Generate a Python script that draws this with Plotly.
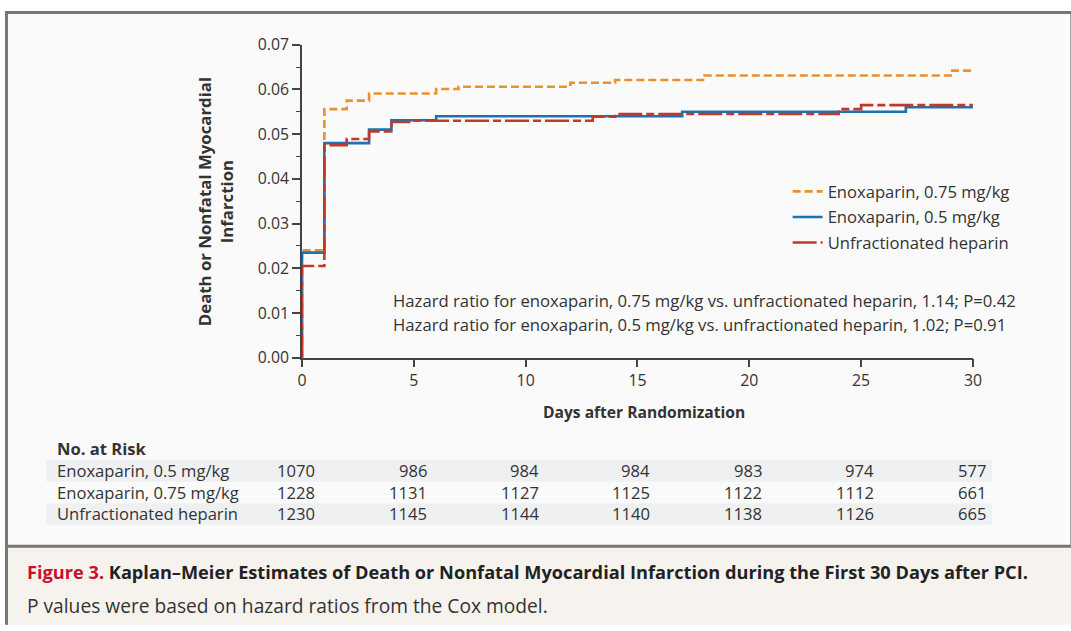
import plotly.graph_objects as go

# ---------------- data ----------------
days_enox075 = [0, 0, 1, 2, 3, 6, 7, 12, 14, 18, 29, 30]
risk_enox075 = [0, 0.024, 0.0556, 0.0575, 0.0591, 0.0601, 0.0606, 0.0615, 0.0621, 0.0631, 0.0642, 0.0642]

days_enox05 = [0, 0, 1, 3, 4, 6, 17, 27, 30]
risk_enox05 = [0, 0.0235, 0.0480, 0.0510, 0.0531, 0.0540, 0.0550, 0.0560, 0.0560]

days_ufh = [0, 0, 1, 2, 3, 4, 5, 13, 14, 24, 25, 30]
risk_ufh = [0, 0.0205, 0.0475, 0.0489, 0.0506, 0.0527, 0.0530, 0.0539, 0.0545, 0.0556, 0.0565, 0.0565]

series_names = ["Enoxaparin, 0.75 mg/kg", "Enoxaparin, 0.5 mg/kg", "Unfractionated heparin"]

risk_days = [0, 5, 10, 15, 20, 25, 30]
risk_rows = ["Enoxaparin, 0.5 mg/kg", "Enoxaparin, 0.75 mg/kg", "Unfractionated heparin"]
risk_enox05_n = [1070, 986, 984, 984, 983, 974, 577]
risk_enox075_n = [1228, 1131, 1127, 1125, 1122, 1112, 661]
risk_ufh_n = [1230, 1145, 1144, 1140, 1138, 1126, 665]

y_ticks = [0.00, 0.01, 0.02, 0.03, 0.04, 0.05, 0.06, 0.07]
x_ticks = [0, 5, 10, 15, 20, 25, 30]

hazard_lines = [
    "Hazard ratio for enoxaparin, 0.75 mg/kg vs. unfractionated heparin, 1.14; P=0.42",
    "Hazard ratio for enoxaparin, 0.5 mg/kg vs. unfractionated heparin, 1.02; P=0.91",
]

# ---------------- styling ----------------
W, H = 1071, 631
FONT = "Open Sans"
TXT = "#333333"
C_ORANGE = "#E8912D"
C_BLUE = "#1B72B5"
C_RED = "#C0392B"

# the photographed page appears slightly scaled/offset; positions below are
# given in target-picture pixels and converted to page pixels
SX, AX = 0.987, 5.0
SY, AY = 0.962, 11.4


def page_x(xr):
    return (xr - AX) / SX


def page_y(yr):
    return (yr - AY) / SY


def PX(xr):
    return page_x(xr) / W


def PY(yr):
    return 1 - page_y(yr) / H


def rpx(v):  # raw page pixel -> paper
    return v / W


def rpy(v):
    return 1 - v / H


fig = go.Figure()

fig.add_trace(go.Scatter(
    x=days_enox075, y=risk_enox075, mode="lines", line_shape="hv",
    name=series_names[0], legendgroup="a",
    line=dict(color=C_ORANGE, width=2.6, dash="8px,4px"),
))
fig.add_trace(go.Scatter(
    x=days_enox05, y=risk_enox05, mode="lines", line_shape="hv",
    name=series_names[1], legendgroup="b",
    line=dict(color=C_BLUE, width=2.6),
))
fig.add_trace(go.Scatter(
    x=days_ufh, y=risk_ufh, mode="lines", line_shape="hv",
    name=series_names[2], legendgroup="c",
    line=dict(color=C_RED, width=2.6, dash="24px,4px,8px,4px"),
))

shapes = []
# caption panel background (runs to the bottom edge of the page)
shapes.append(dict(type="rect", xref="paper", yref="paper",
                   x0=rpx(1.5), x1=rpx(W + 10), y0=rpy(H + 5), y1=PY(545),
                   fillcolor="#F6F3EE", line=dict(width=0), layer="below"))
# caption panel left border
shapes.append(dict(type="line", xref="paper", yref="paper",
                   x0=rpx(1.5), x1=rpx(1.5), y0=rpy(H + 5), y1=PY(545),
                   line=dict(color="#777777", width=3), layer="below"))
# chart panel (top border sits at the very top of the page)
shapes.append(dict(type="rect", xref="paper", yref="paper",
                   x0=rpx(1.5), x1=rpx(W + 10), y0=PY(545), y1=rpy(1.5),
                   fillcolor="#FAFAFA", line=dict(color="#777777", width=3), layer="below"))
# risk-table row shading (rows 1 and 3)
for y_top, y_bot in ((459, 480.5), (502, 523.5)):
    shapes.append(dict(type="rect", xref="paper", yref="paper",
                       x0=PX(46), x1=PX(992), y0=PY(y_bot), y1=PY(y_top),
                       fillcolor="#EFF0F2", line=dict(width=0), layer="below"))

annotations = []
# y-axis title
annotations.append(dict(
    text="<b>Death or Nonfatal Myocardial<br>Infarction</b>",
    xref="paper", yref="paper", x=PX(215), y=PY(201), textangle=-90,
    showarrow=False, font=dict(family=FONT, size=16.8, color=TXT),
    xanchor="center", yanchor="middle", align="center"))
# x-axis title
annotations.append(dict(
    text="<b>Days after Randomization</b>", xref="paper", yref="paper",
    x=PX(644.5), y=PY(411), showarrow=False,
    font=dict(family=FONT, size=15.6, color=TXT), xanchor="center", yanchor="middle"))
# hazard ratios
for i, line in enumerate(hazard_lines):
    annotations.append(dict(
        text=line, xref="paper", yref="paper", x=PX(391), y=PY(300 + 24 * i),
        showarrow=False, font=dict(family=FONT, size=16.7, color=TXT),
        xanchor="left", yanchor="middle"))
# risk table
annotations.append(dict(
    text="<b>No. at Risk</b>", xref="paper", yref="paper", x=PX(55), y=PY(447),
    showarrow=False, font=dict(family=FONT, size=16.6, color=TXT),
    xanchor="left", yanchor="middle"))
row_y = [469.5, 491, 512.5]
for label, vals, yc in zip(risk_rows, [risk_enox05_n, risk_enox075_n, risk_ufh_n], row_y):
    annotations.append(dict(
        text=label, xref="paper", yref="paper", x=PX(55), y=PY(yc),
        showarrow=False, font=dict(family=FONT, size=16.6, color=TXT),
        xanchor="left", yanchor="middle"))
    for d, v in zip(risk_days, vals):
        annotations.append(dict(
            text=str(v), xref="x", yref="paper", x=d, xshift=15, y=PY(yc),
            showarrow=False, font=dict(family=FONT, size=16.6, color=TXT),
            xanchor="right", yanchor="middle"))
# caption
annotations.append(dict(
    text='<b><span style="color:#C8102E">Figure 3.</span> Kaplan\u2013Meier Estimates of Death or Nonfatal '
         'Myocardial Infarction during the First 30 Days after PCI.</b>',
    xref="paper", yref="paper", x=PX(25), y=PY(571), showarrow=False,
    font=dict(family=FONT, size=18.2, color="#222222"),
    xanchor="left", yanchor="middle"))
annotations.append(dict(
    text="P values were based on hazard ratios from the Cox model.",
    xref="paper", yref="paper", x=PX(25), y=PY(604), showarrow=False,
    font=dict(family=FONT, size=19.2, color="#333333"),
    xanchor="left", yanchor="middle"))

fig.update_layout(
    width=W, height=H, margin=dict(l=0, r=0, t=0, b=0),
    paper_bgcolor="white", plot_bgcolor="rgba(0,0,0,0)",
    font=dict(family=FONT, size=14, color=TXT),
    showlegend=True,
    legend=dict(x=rpx(793), y=rpy(169), xanchor="left", yanchor="top",
                bgcolor="rgba(0,0,0,0)", font=dict(family=FONT, size=16.6, color=TXT),
                tracegroupgap=1, itemwidth=30),
    shapes=shapes, annotations=annotations,
    xaxis=dict(domain=[PX(302), PX(973)], range=[0, 30], tickvals=x_ticks,
               ticks="outside", ticklen=8, tickwidth=1.5, tickcolor="#444",
               showline=True, linecolor="#444", linewidth=1.5, showgrid=False,
               zeroline=False, tickfont=dict(family=FONT, size=15.8, color=TXT),
               anchor="y"),
    yaxis=dict(domain=[PY(357), PY(45)], range=[0, 0.07], tickvals=y_ticks,
               tickformat=".2f", ticks="outside", ticklen=8, tickwidth=1.5,
               tickcolor="#444", showline=True, linecolor="#444", linewidth=1.5,
               showgrid=False, zeroline=False,
               tickfont=dict(family=FONT, size=15.8, color=TXT),
               minor=dict(dtick=0.005, ticks="outside", ticklen=4.5, tickwidth=1.2,
                          tickcolor="#444", showgrid=False),
               anchor="x"),
)

fig.write_html("out.html",
               config={"displayModeBar": False},
               post_script="document.body.style.margin='0';document.body.style.overflow='hidden';")
